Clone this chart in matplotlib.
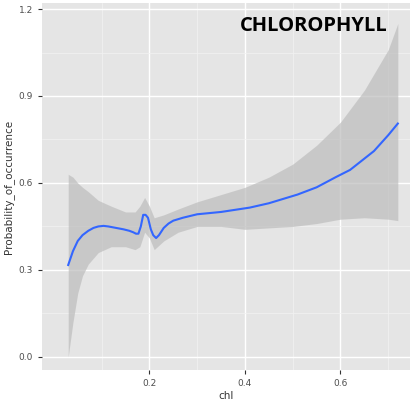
import matplotlib
matplotlib.use("Agg")
import matplotlib.pyplot as plt
import numpy as np

x = [0.03, 0.04, 0.05, 0.06, 0.072, 0.083, 0.093, 0.104, 0.114, 0.13, 0.146, 0.158, 0.166, 0.172, 0.177, 0.182, 0.187, 0.192, 0.197, 0.203, 0.208, 0.214, 0.22, 0.23, 0.24, 0.25, 0.27, 0.30, 0.35, 0.41, 0.45, 0.51, 0.55, 0.59, 0.62, 0.67, 0.70, 0.72]
y = [0.317, 0.365, 0.40, 0.42, 0.435, 0.445, 0.45, 0.452, 0.45, 0.445, 0.44, 0.435, 0.43, 0.425, 0.425, 0.45, 0.49, 0.49, 0.48, 0.44, 0.42, 0.41, 0.42, 0.445, 0.46, 0.47, 0.48, 0.492, 0.50, 0.515, 0.53, 0.56, 0.585, 0.62, 0.645, 0.71, 0.765, 0.805]
bx = [0.03, 0.04, 0.05, 0.06, 0.072, 0.093, 0.12, 0.15, 0.17, 0.18, 0.19, 0.20, 0.21, 0.23, 0.26, 0.30, 0.35, 0.40, 0.45, 0.50, 0.55, 0.60, 0.65, 0.70, 0.72]
upper = [0.63, 0.62, 0.60, 0.585, 0.57, 0.54, 0.52, 0.50, 0.50, 0.52, 0.55, 0.52, 0.48, 0.49, 0.51, 0.535, 0.56, 0.585, 0.62, 0.665, 0.73, 0.81, 0.92, 1.06, 1.15]
lower = [0.0, 0.12, 0.22, 0.28, 0.32, 0.36, 0.38, 0.38, 0.37, 0.38, 0.43, 0.41, 0.37, 0.40, 0.43, 0.45, 0.45, 0.44, 0.445, 0.45, 0.46, 0.475, 0.48, 0.475, 0.47]

fig = plt.figure(figsize=(4.11, 4.03), dpi=100)
ax = fig.add_axes([0.102, 0.082, 0.895, 0.91])
ax.set_facecolor("#e5e5e5")
ax.fill_between(bx, lower, upper, color="#bdbdbd", alpha=0.7, lw=0, zorder=2)
ax.plot(x, y, color="#3366ff", lw=1.5, zorder=3)
ax.set_xlim(-0.025, 0.745)
ax.set_ylim(-0.045, 1.22)
ax.set_xticks([0.2, 0.4, 0.6])
ax.set_yticks([0.0, 0.3, 0.6, 0.9, 1.2])
ax.set_xticks([0.1, 0.3, 0.5, 0.7], minor=True)
ax.set_yticks([0.15, 0.45, 0.75, 1.05], minor=True)
ax.grid(True, which="major", color="white", lw=1.0, zorder=1)
ax.grid(True, which="minor", color="#f2f2f2", lw=0.5, zorder=1)
ax.set_axisbelow(True)
for s in ax.spines.values():
    s.set_visible(False)
ax.tick_params(which="both", length=3, color="#333333", labelsize=6.5, labelcolor="#4d4d4d")
ax.tick_params(which="minor", length=0)
ax.set_xlabel("chl", fontsize=7.5, color="#333333", labelpad=2)
ax.set_ylabel("Probability_of_occurrence", fontsize=7.5, color="#333333", labelpad=3)
ax.text(0.94, 0.965, "CHLOROPHYLL", transform=ax.transAxes, ha="right", va="top",
        fontsize=14.5, fontweight="bold", family="Open Sans", color="black", zorder=5)
fig.savefig("out.png", dpi=100)
